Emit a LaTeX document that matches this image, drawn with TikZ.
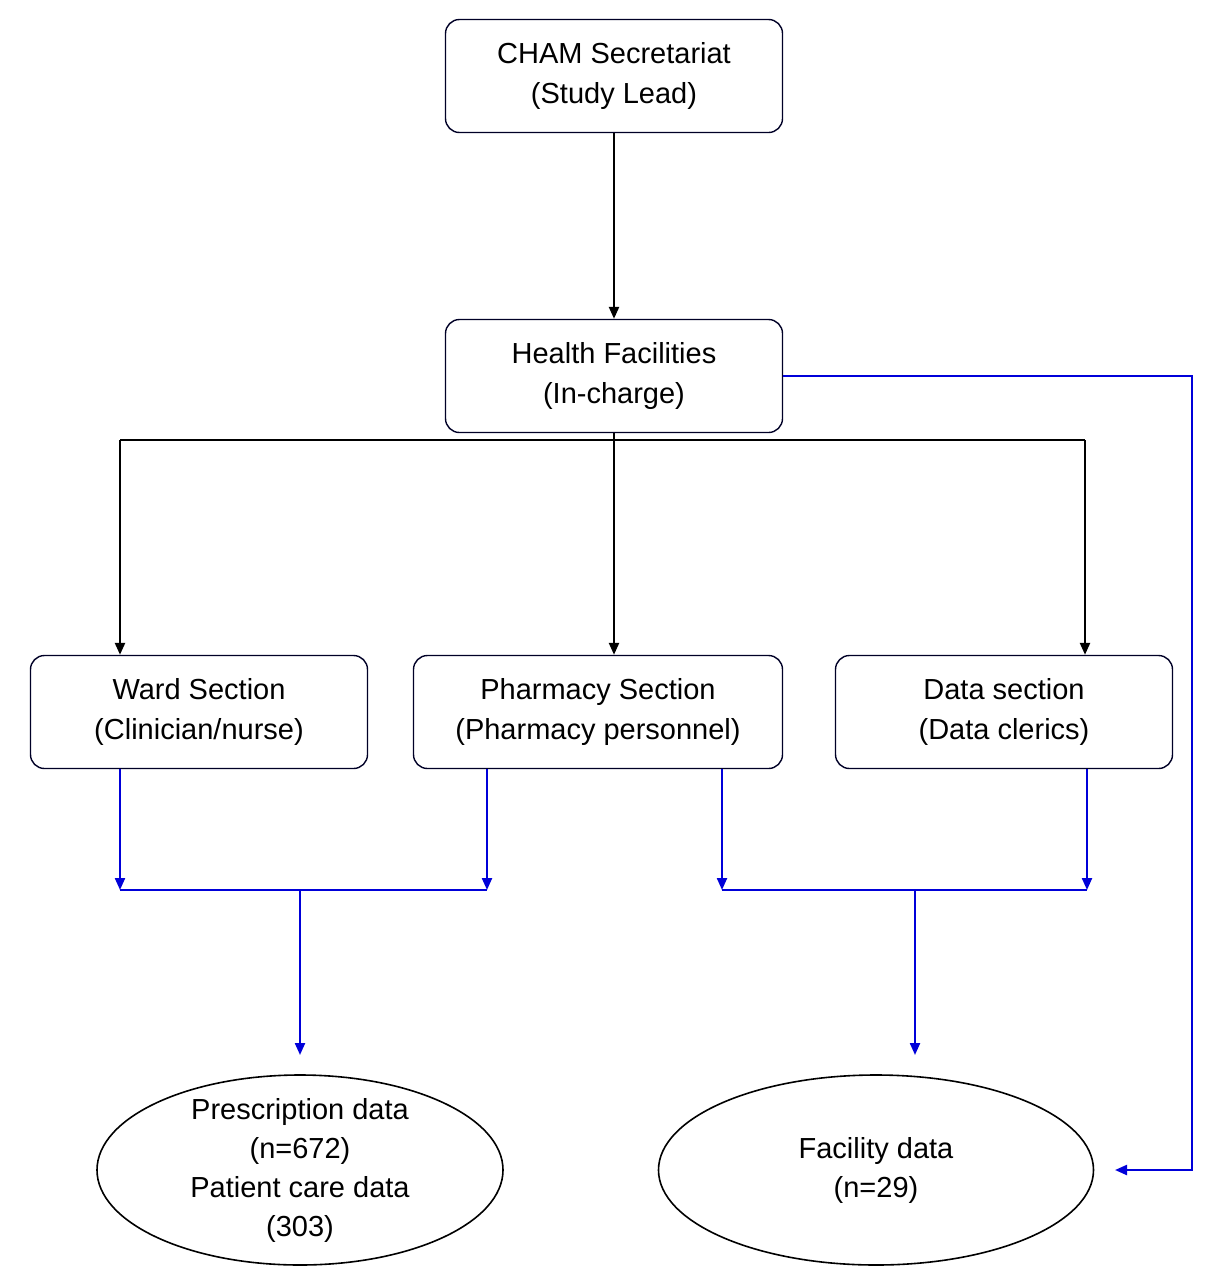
\documentclass[tikz,border=0pt]{standalone}
\usepackage{fontspec}
\setmainfont{Liberation Sans}
\usetikzlibrary{arrows.meta,shapes.geometric}
\begin{document}
\begin{tikzpicture}[x=1pt,y=-1pt,
  box/.style={draw=black!85!blue,line width=1.4pt,rounded corners=14pt,minimum height=113pt,align=center,font=\fontsize{29}{40}\selectfont},
  ell/.style={draw,line width=1.6pt,ellipse,minimum height=190pt,inner sep=0pt},
  etxt/.style={align=center,font=\fontsize{29}{39}\selectfont},
  blk/.style={line width=2.4pt,-{Triangle[length=12pt,width=10pt]}},
  blu/.style={line width=2.2pt,blue!85!black,-{Triangle[length=12pt,width=10pt]}},
  bl/.style={line width=2.2pt,blue!85!black}]
\useasboundingbox (0,0) rectangle (1228,1280);
\node[box,minimum width=337pt] (cham) at (614,76) {CHAM Secretariat\\(Study Lead)};
\node[box,minimum width=337pt] (hf) at (614,376) {Health Facilities\\(In-charge)};
\node[box,minimum width=337pt] (ward) at (199,712) {Ward Section\\(Clinician/nurse)};
\node[box,minimum width=369pt] (ph) at (598,712) {Pharmacy Section\\(Pharmacy personnel)};
\node[box,minimum width=337pt] (ds) at (1004,712) {Data section\\(Data clerics)};
\node[ell,minimum width=406pt] (e1) at (300,1170) {};
\node[etxt] (t1) at (e1.center) {Prescription data\\(n=672)\\Patient care data\\(303)};
\node[ell,minimum width=435pt] (e2) at (876,1170) {};
\node[etxt] (t2) at (e2.center) {Facility data\\(n=29)};
\coordinate (hl) at (120,440); \coordinate (hr) at (1085,440); \coordinate (hc) at (614,440);
\draw[blk] (cham) -- (hf);
\draw[line width=2.4pt] (hf.south) -- (hc);
\draw[line width=2.4pt] (hl) -- (hr);
\draw[blk] (hl) -- (hl |- ward.north);
\draw[blk] (hc) -- (hc |- ph.north);
\draw[blk] (hr) -- (hr |- ds.north);
\coordinate (a1) at (120,890); \coordinate (a2) at (487,890);
\coordinate (b1) at (722,890); \coordinate (b2) at (1087,890);
\coordinate (m1) at (300,890); \coordinate (m2) at (915,890);
\draw[blu] (a1 |- ward.south) -- (a1);
\draw[blu] (a2 |- ph.south) -- (a2);
\draw[blu] (b1 |- ph.south) -- (b1);
\draw[blu] (b2 |- ds.south) -- (b2);
\draw[bl] (a1) -- (a2); \draw[bl] (b1) -- (b2);
\draw[blu] (m1) -- (300,1055);
\draw[blu] (m2) -- (915,1055);
\coordinate (rt) at (1192,376); \coordinate (rb) at (1192,1170);
\draw[blu] (hf.east) -- (rt) -- (rb) -- (1115,1170);
\end{tikzpicture}
\end{document}
